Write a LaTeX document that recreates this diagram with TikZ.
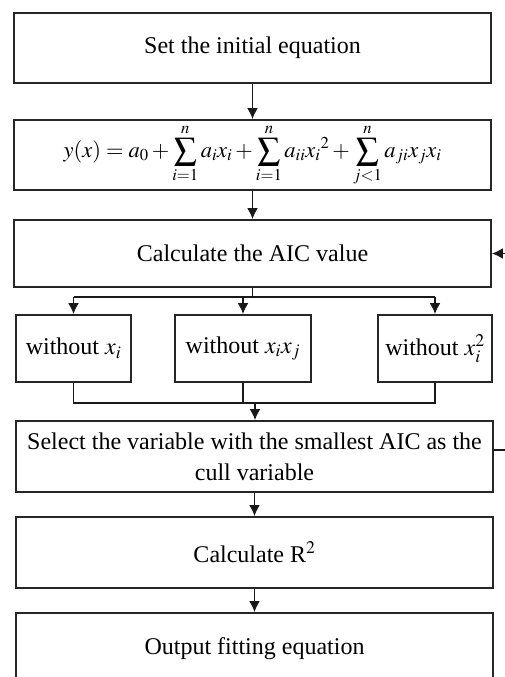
\documentclass[tikz,border=0pt]{standalone}
\usepackage{mathptmx}
\usepackage{fontspec}
\setmainfont{Liberation Serif}
\usetikzlibrary{arrows.meta}
\begin{document}
\begin{tikzpicture}[x=1pt,y=-1pt,
  box/.style={draw=black!85, line width=1.8pt, inner sep=0pt, align=center,
    font=\fontsize{24}{31}\selectfont},
  wide/.style={box, minimum width=477pt, minimum height=70pt},
  small/.style={box, minimum height=67pt},
  conn/.style={line width=1.8pt, black!90},
  arr/.style={conn, -{Latex[length=11pt,width=11pt]}}]
\useasboundingbox (0,0) rectangle (505,677);
\clip (0,0) rectangle (505,677);
\node[wide] (b1) at (252.5,48) {Set the initial equation};
\node[wide, font=\fontsize{22.5}{28}\selectfont] (b2) at (252.5,155) {$\displaystyle y(x)=a_0+\sum_{i=1}^{n}a_ix_i+\sum_{i=1}^{n}a_{ii}x_i{}^2+\sum_{j<1}^{n}a_{ji}x_jx_i$};
\node[wide, minimum height=67pt] (b3) at (252.5,253.5) {Calculate the AIC value};
\node[small, minimum width=115pt] (s1) at (73.5,348.5) {without $x_i$};
\node[small, minimum width=136pt] (s2) at (243,348.5) {without $x_ix_j$};
\node[small, minimum width=114pt] (s3) at (435,348.5) {without $x_i^2$};
\node[wide, minimum height=71pt] (b4) at (254.5,456.5) {Select the variable with the smallest AIC as the\\cull variable};
\node[wide, minimum height=71pt] (b5) at (254.5,552.5) {Calculate R$^2$};
\node[wide, minimum height=71pt] (b6) at (254.5,648.5) {Output fitting equation};
% main flow
\draw[arr] (b1) -- (b2);
\draw[arr] (b2) -- (b3);
% branch
\coordinate (br) at (252.5,297);
\coordinate (mg) at (255,403);
\draw[conn] (b3.south) -- (br);
\draw[conn] (br -| s1) -- (br -| s3);
\draw[arr] (br -| s1) -- (s1.north);
\draw[arr] (br -| s2) -- (s2.north);
\draw[arr] (br -| s3) -- (s3.north);
% merge
\draw[conn] (s1.south) -- (mg -| s1) -- (mg -| s3) -- (s3.south);
\draw[conn] (s2.south) -- (mg -| s2);
\draw[arr] (mg) -- (b4.north -| mg);
\draw[arr] (b4) -- (b5);
\draw[arr] (b5) -- (b6);
% feedback stubs
\coordinate (fbout) at (510,450);
\coordinate (fbin) at (510,253.5);
\draw[conn] (b4.east |- fbout) -- (fbout);
\draw[arr] (fbin) -- (b3.east);
\end{tikzpicture}
\end{document}
